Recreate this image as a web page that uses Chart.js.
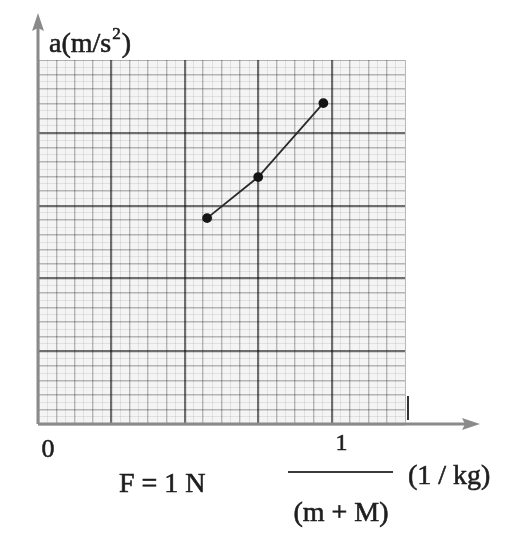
<!DOCTYPE html>
<html>
<head>
<meta charset="utf-8">
<script src="https://cdn.jsdelivr.net/npm/chart.js@4.4.0/dist/chart.umd.min.js"></script>
<style>
html, body { margin: 0; padding: 0; background: #fff; }
#wrap { width: 528px; height: 540px; }
</style>
</head>
<body>
<div id="wrap"><canvas id="myChart" width="528" height="540"></canvas></div>
<script>
// data (x = 1/(m+M), y = a)
var invMass = [0.576, 0.75, 0.972];
var accel = [0.707, 0.848, 1.102];
var xTickValues = [0, 1];
var xTickLabels = ['0', '1'];

var serif = '"Liberation Serif", "DejaVu Serif", serif';
var ink = '#1e1e1e';
var axisGray = '#8a8a8a';

// translucent lines so crossings don't break the heavy ones
function gridColor(ctx, every, minorEvery, max) {
    var i = ctx.index;
    if (ctx.tick && ctx.tick.value >= max - 1e-6) return 'rgba(0,0,0,0.28)';
    if (i % every === 0) return 'rgba(0,0,0,0.55)';
    if (i % minorEvery === 0) return 'rgba(0,0,0,0.26)';
    return 'rgba(0,0,0,0.08)';
}
function gridWidth(ctx, every, minorEvery, max) {
    var i = ctx.index;
    if (ctx.tick && ctx.tick.value >= max - 1e-6) return 1;
    if (i % every === 0) return 2.2;
    if (i % minorEvery === 0) return 1.4;
    return 1;
}

function label(c, txt, x, y) {
    c.fillText(txt, x, y);
    c.strokeText(txt, x, y);
}

var paper = {
    id: 'paper',
    beforeDraw: function (chart) {
        var a = chart.chartArea, c = chart.ctx;
        c.save();
        c.fillStyle = '#f4f4f4';
        c.fillRect(a.left, a.top, a.right - a.left, a.bottom - a.top);
        c.restore();
    },
    afterDraw: function (chart) {
        var c = chart.ctx, a = chart.chartArea;
        var xs = chart.scales.x;
        var x0 = xs.getPixelForValue(0), y0 = chart.scales.y.getPixelForValue(0);
        c.save();
        // axes
        c.strokeStyle = axisGray;
        c.fillStyle = axisGray;
        c.lineWidth = 3;
        c.beginPath();
        c.moveTo(x0, y0);
        c.lineTo(468, y0);
        c.moveTo(x0, y0);
        c.lineTo(x0, 24);
        c.stroke();
        c.beginPath();
        c.moveTo(480, y0);
        c.lineTo(462, y0 - 6);
        c.lineTo(465, y0);
        c.lineTo(462, y0 + 6);
        c.closePath();
        c.fill();
        c.beginPath();
        c.moveTo(x0, 13);
        c.lineTo(x0 - 6, 31);
        c.lineTo(x0, 28);
        c.lineTo(x0 + 6, 31);
        c.closePath();
        c.fill();
        // small mark at right edge
        c.strokeStyle = '#333';
        c.lineWidth = 2;
        c.beginPath();
        c.moveTo(a.right + 3, y0 - 28);
        c.lineTo(a.right + 3, y0 - 4);
        c.stroke();

        c.fillStyle = ink;
        c.strokeStyle = ink;
        c.lineWidth = 0.6;

        // tick labels
        c.textBaseline = 'middle';
        c.textAlign = 'center';
        xTickValues.forEach(function (v, i) {
            var px = xs.getPixelForValue(v);
            c.font = (i === 0 ? 26 : 24) + 'px ' + serif;
            label(c, xTickLabels[i], px + (i === 0 ? 10 : 10), i === 0 ? 450 : 444);
        });

        // y title
        c.textAlign = 'left';
        c.textBaseline = 'alphabetic';
        c.font = '28px ' + serif;
        var tx = 49;
        label(c, 'a(m/s', tx, 52);
        tx += c.measureText('a(m/s').width;
        c.font = '17px ' + serif;
        label(c, '2', tx + 1, 39);
        tx += c.measureText('2').width + 2;
        c.font = '28px ' + serif;
        label(c, ')', tx, 52);

        // x title as fraction
        c.textBaseline = 'middle';
        c.font = '28px ' + serif;
        label(c, 'F = 1 N', 119, 485);
        label(c, '(1 / kg)', 408, 477);
        c.textAlign = 'center';
        label(c, '(m + M)', 341, 514);
        c.strokeStyle = '#3a3a3a';
        c.lineWidth = 2;
        c.beginPath();
        c.moveTo(288, 472);
        c.lineTo(393, 472);
        c.stroke();
        c.restore();
    }
};

var ctx = document.getElementById('myChart');
var myChart = new Chart(ctx, {
    type: 'line',
    data: {
        datasets: [{
            data: invMass.map(function (x, i) { return { x: x, y: accel[i] }; }),
            borderColor: '#2a2a2a',
            borderWidth: 1.8,
            pointRadius: 4,
            pointBackgroundColor: '#151515',
            pointBorderColor: '#151515',
            tension: 0
        }]
    },
    options: {
        responsive: false,
        animation: false,
        devicePixelRatio: 1,
        layout: { padding: { left: 38, top: 60, right: 123, bottom: 116 } },
        plugins: { legend: { display: false }, tooltip: { enabled: false } },
        scales: {
            x: {
                type: 'linear', min: 0, max: 1.25,
                ticks: { display: false, stepSize: 0.03125, autoSkip: false },
                border: { display: false },
                grid: {
                    drawTicks: false,
                    color: function (c) { return gridColor(c, 8, 2, 1.25); },
                    lineWidth: function (c) { return gridWidth(c, 8, 2, 1.25); }
                }
            },
            y: {
                type: 'linear', min: 0, max: 1.25,
                ticks: { display: false, stepSize: 0.025, autoSkip: false },
                border: { display: false },
                grid: {
                    drawTicks: false,
                    color: function (c) { return gridColor(c, 10, 2, 1.25); },
                    lineWidth: function (c) { return gridWidth(c, 10, 2, 1.25); }
                }
            }
        }
    },
    plugins: [paper]
});
window.chart = myChart;
</script>
</body>
</html>
